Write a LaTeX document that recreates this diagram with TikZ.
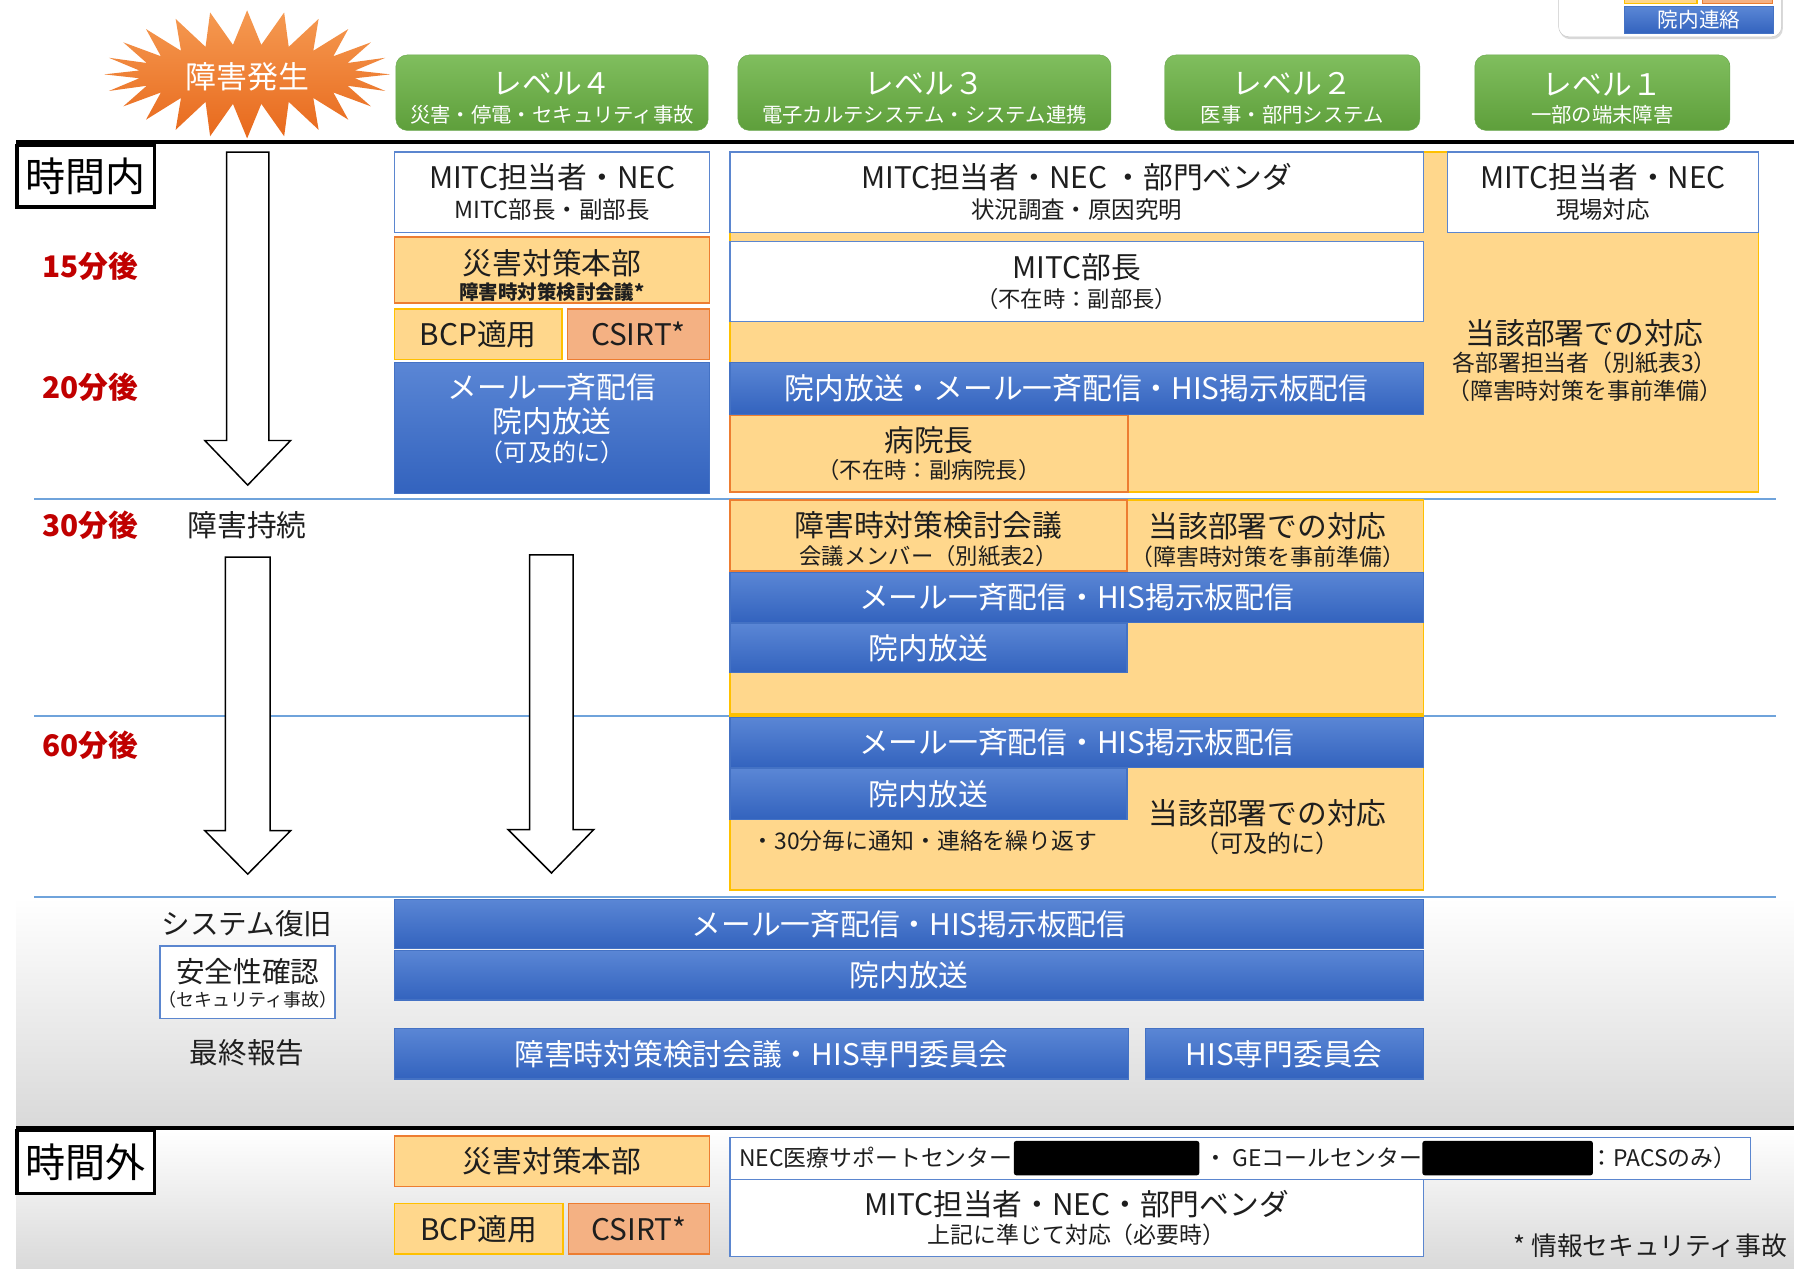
\documentclass[tikz,border=0pt]{standalone}
\usepackage{fontspec}
\setmainfont{Noto Sans CJK JP}
\usetikzlibrary{shapes.symbols,shadows}
\definecolor{txt}{HTML}{1E1E1E}
\definecolor{ofill}{HTML}{FFD78C}
\definecolor{oborder}{HTML}{ED7D31}
\definecolor{gborder}{HTML}{FFC000}
\definecolor{salmon}{HTML}{F4B183}
\definecolor{bborder}{HTML}{4472C4}
\definecolor{wborder}{HTML}{5B86CF}
\definecolor{btop}{HTML}{5A86D5}
\definecolor{bbot}{HTML}{3363BE}
\definecolor{gtop}{HTML}{80BE5E}
\definecolor{gbot}{HTML}{5E9F3B}
\definecolor{gdraw}{HTML}{6AA84F}
\definecolor{redlbl}{HTML}{C00000}
\definecolor{gridln}{HTML}{6FA3DB}
\definecolor{bgray}{HTML}{D9D9D9}
\definecolor{bursttop}{HTML}{F59A52}
\definecolor{burstbot}{HTML}{E8691C}
\definecolor{lgray}{HTML}{C8C8C8}
\newcommand\fs[1]{\fontsize{#1}{#1}\selectfont}
\newcommand\fsb[2]{\fontsize{#1}{#2}\selectfont}
\newcommand\bx[7]{\node[#2,anchor=north west,minimum width={(#5)-(#3)},minimum height={(#6)-(#4)}] (#1) at (#3,#4) {#7};}
\begin{document}
\begin{tikzpicture}[x=1pt,y=-1pt,
  base/.style={inner sep=0pt,outer sep=0pt,align=center,text=txt,font=\fsb{26}{26}},
  wbox/.style={base,draw=wborder,fill=white,line width=1.3pt},
  obox/.style={base,draw=oborder,fill=ofill,line width=1.3pt},
  ybox/.style={base,draw=gborder,fill=ofill,line width=1.3pt},
  sbox/.style={base,draw=oborder,fill=salmon,line width=1.3pt},
  bbar/.style={base,draw=bborder,top color=btop,bottom color=bbot,text=white,line width=1pt},
  region/.style={base,draw=gborder,fill=ofill,line width=1.3pt},
  lvl/.style={base,rounded corners=10pt,draw=gdraw,top color=gtop,bottom color=gbot},
  lvltext/.style={base,text=white,font=\fsb{26}{24}},
  tbox/.style={base,draw=black,fill=white,line width=3pt,font=\fs{35},text=black},
  plain/.style={base},
  tlbl/.style={base,text=redlbl,font=\bfseries\fs{26}},
  gridline/.style={draw=gridln,line width=1.5pt},
  sepline/.style={draw=black,line width=4pt},
  bigarrow/.style={draw=black,fill=white,line width=1.3pt,line join=miter},
  redact/.style={fill=black,rounded corners=2pt,inner sep=0pt}
]
\useasboundingbox (0,0) rectangle (1568,1109);
\clip (0,0) rectangle (1568,1109);

% backgrounds
\shade[top color=white,bottom color=bgray] (14,784) rectangle (1568,985);
\shade[top color=white,bottom color=bgray] (14,988) rectangle (1568,1109);

% grid and separators
\draw[gridline] (30,436) -- (1552,436);
\draw[gridline] (30,626) -- (1552,626);
\draw[gridline] (30,784) -- (1552,784);
\draw[sepline] (14,124) -- (1568,124);
\draw[sepline] (14,986) -- (1568,986);

% legend
\node[draw=lgray,fill=white,rounded corners=9pt,drop shadow={opacity=0.3,shadow xshift=1pt,shadow yshift=-2pt},anchor=north west,minimum width=195,minimum height=46,inner sep=0pt] (legend) at (1362,-14) {};
\bx{legy}{ybox}{1420}{-6}{1483}{3}{}
\bx{legs}{sbox}{1488}{-6}{1549}{3}{}
\bx{legb}{bbar,font=\fs{18}}{1420}{6}{1550}{29}{院内連絡}

% starburst
\node[starburst,starburst points=24,starburst point height=30pt,random starburst=0,top color=bursttop,bottom color=burstbot,draw=none,minimum width=250pt,minimum height=112pt,inner sep=0pt] (burst) at (216,65) {};
\node[plain,text=white,font=\fs{27}] (bursttext) at (216,67) {障害発生};

% levels
\bx{lv4}{lvl}{346}{48}{619}{114}{}
\bx{lv3}{lvl}{645}{48}{971}{114}{}
\bx{lv2}{lvl}{1018}{48}{1241}{114}{}
\bx{lv1}{lvl}{1289}{48}{1512}{114}{}
\node[lvltext] (lv4t) at ([yshift=-5pt]lv4.center) {レベル４\\\fs{17.8}災害・停電・セキュリティ事故};
\node[lvltext] (lv3t) at ([yshift=-5pt]lv3.center) {レベル３\\\fs{17.8}電子カルテシステム・システム連携};
\node[lvltext] (lv2t) at ([yshift=-5pt]lv2.center) {レベル２\\\fs{17.8}医事・部門システム};
\node[lvltext] (lv1t) at ([yshift=-5pt]lv1.center) {レベル１\\\fs{17.8}一部の端末障害};

% time boxes
\bx{tin}{tbox}{15}{127}{135}{181}{時間内}
\bx{tout}{tbox}{15}{988}{135}{1043}{時間外}

% orange regions
\bx{reg1}{region}{638}{133}{1537}{430}{}
\bx{reg2}{region}{638}{437}{1244}{624}{}
\bx{reg3}{region}{638}{626}{1244}{778}{}

% arrows
\draw[bigarrow] (198,133) -- (235,133) -- (235,385) -- (254,385) -- (216.5,424) -- (179,385) -- (198,385) -- cycle;
\draw[bigarrow] (197,487) -- (236,487) -- (236,726) -- (254,726) -- (216.5,764) -- (179,726) -- (197,726) -- cycle;
\draw[bigarrow] (463,485) -- (501,485) -- (501,725) -- (519,725) -- (482,763) -- (444,725) -- (463,725) -- cycle;

% left labels
\node[tlbl] (t15) at (79,233) {15分後};
\node[tlbl] (t20) at (79,338) {20分後};
\node[tlbl] (t30) at (79,459) {30分後};
\node[tlbl] (t60) at (79,651) {60分後};
\node[plain] (persist) at (216,459) {障害持続};
\node[plain,font=\fs{25}] (recov) at (216,807) {システム復旧};
\bx{safe}{wbox}{140}{827}{293}{890}{}
\node[plain,font=\fsb{25}{21}] (safet) at ([yshift=-1pt]safe.center) {安全性確認\\\fs{15.7}（セキュリティ事故）};
\node[plain,font=\fs{25}] (final) at (216,920) {最終報告};

% level 4 column
\bx{a4}{wbox}{345}{133}{620}{203}{MITC担当者・NEC\\\fs{20.5}MITC部長・副部長}
\bx{hq}{obox}{345}{207}{620}{265}{}
\node[plain,font=\fsb{26}{22}] (hqt) at ([yshift=-4.5pt]hq.center) {災害対策本部\\\bfseries\fs{17}障害時対策検討会議*};
\bx{bcp}{ybox}{345}{270}{491}{314}{BCP適用}
\bx{csirt}{sbox}{496}{270}{620}{314}{CSIRT*}
\bx{mail4}{bbar}{345}{317}{620}{431}{}
\node[plain,text=white,font=\fsb{26}{30}] (mail4t) at ([yshift=8pt]mail4.center) {メール一斉配信\\院内放送\\[-5pt]\fs{21}（可及的に）};

% level 3-1 columns
\bx{a3}{wbox}{638}{133}{1244}{203}{MITC担当者・NEC\ ・部門ベンダ\\\fs{20.5}状況調査・原因究明}
\bx{a1}{wbox}{1265}{133}{1537}{203}{MITC担当者・NEC\\\fs{20.5}現場対応}
\bx{chief}{wbox,font=\fsb{26}{25}}{638}{211}{1244}{281}{MITC部長\\\fs{19.5}（不在時：副部長）}
\bx{bc3}{bbar}{638}{317}{1244}{362}{院内放送・メール一斉配信・HIS掲示板配信}
\bx{dir}{obox,font=\fsb{26}{24}}{638}{363}{986}{430}{病院長\\\fs{19.5}（不在時：副病院長）}
\node[plain,font=\fsb{26}{24}] (dept1) at (1385,315) {当該部署での対応\\\fs{20}各部署担当者（別紙表3）\\\fs{20}（障害時対策を事前準備）};

% 30 min
\bx{mtg}{obox}{638}{437}{985}{499}{}
\node[plain,font=\fsb{26}{24}] (mtgt) at ([yshift=-3pt]mtg.center) {障害時対策検討会議\\\fs{19.5}会議メンバー（別紙表2）};
\node[plain,font=\fsb{26}{24}] (dept2) at (1108,472) {当該部署での対応\\\fs{20}（障害時対策を事前準備）};
\bx{m30}{bbar}{638}{500}{1244}{544}{メール一斉配信・HIS掲示板配信}
\bx{b30}{bbar}{638}{545}{985}{588}{院内放送}

% 60 min
\bx{m60}{bbar}{638}{627}{1244}{671}{メール一斉配信・HIS掲示板配信}
\bx{b60}{bbar}{638}{672}{985}{716}{院内放送}
\node[plain,font=\fs{20}] (rep) at (808,735) {・30分毎に通知・連絡を繰り返す};
\node[plain,font=\fsb{26}{25}] (dept3) at (1108,723) {当該部署での対応\\\fs{21}（可及的に）};

% recovery
\bx{mr}{bbar}{345}{786}{1244}{829}{メール一斉配信・HIS掲示板配信}
\bx{br}{bbar}{345}{831}{1244}{874}{院内放送}
\bx{fin1}{bbar}{345}{899}{986}{943}{障害時対策検討会議・HIS専門委員会}
\bx{fin2}{bbar}{1001}{899}{1244}{943}{HIS専門委員会}

% off hours
\bx{hq2}{obox}{345}{993}{620}{1037}{災害対策本部}
\bx{bcp2}{ybox}{345}{1052}{492}{1096}{BCP適用}
\bx{csirt2}{sbox}{497}{1052}{620}{1096}{CSIRT*}
\bx{nec}{wbox}{638}{994}{1530}{1031}{}
\node[plain,anchor=west,font=\fs{20}] (nec1) at (646,1012) {NEC医療サポートセンター};
\bx{red1}{redact}{886}{997}{1048}{1027}{}
\node[plain,anchor=east,font=\fs{20}] (nec2) at (1243,1012) {・ GEコールセンター};
\bx{red2}{redact}{1243}{997}{1392}{1027}{}
\node[plain,anchor=west,font=\fs{20}] (nec3) at (1390,1012) {：PACSのみ）};
\bx{mitc2}{wbox,font=\fsb{26}{25}}{638}{1031}{1244}{1098}{MITC担当者・NEC・部門ベンダ\\\fs{20}上記に準じて対応（必要時）}
\node[plain,anchor=east,font=\fs{22.5}] (note) at (1562,1089) {* 情報セキュリティ事故};
\end{tikzpicture}
\end{document}
